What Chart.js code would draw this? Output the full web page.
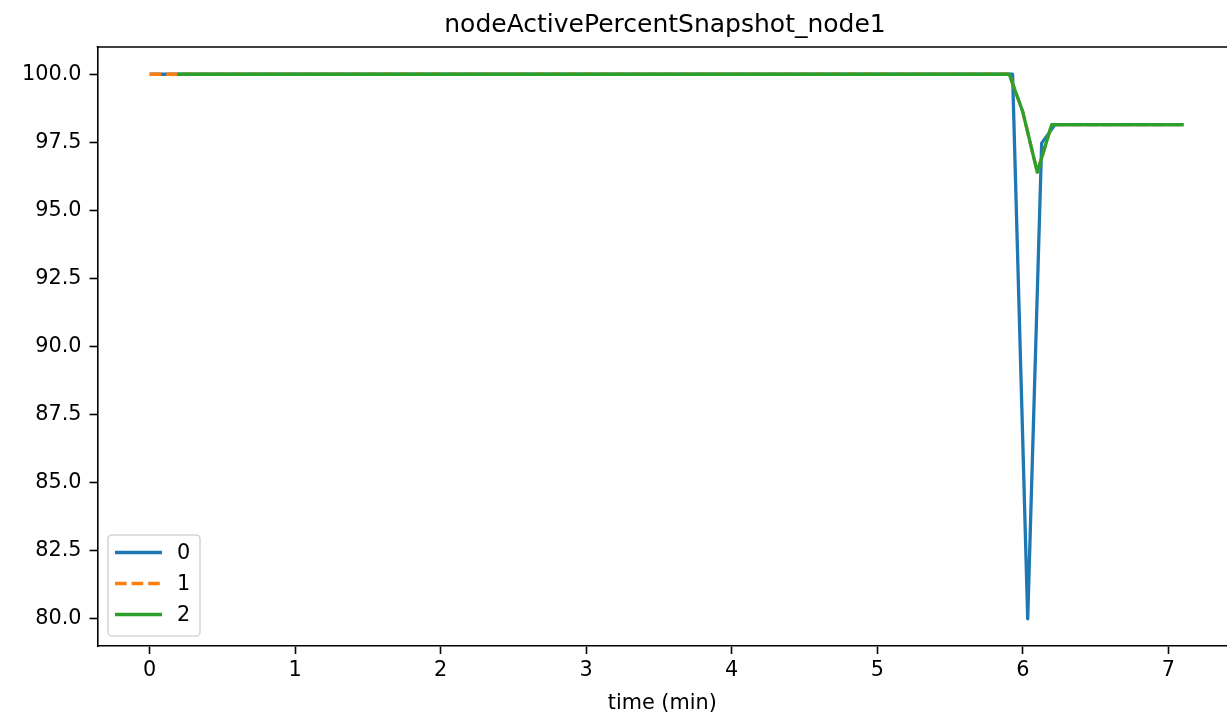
<!DOCTYPE html>
<html>
<head>
<meta charset="utf-8">
<script src="https://cdn.jsdelivr.net/npm/chart.js@4"></script>
<style>
  html, body { margin: 0; padding: 0; background: #fff; }
  #wrap { width: 1227px; height: 716px; }
</style>
</head>
<body>
<div id="wrap"><canvas id="myChart" width="1227" height="716"></canvas></div>
<script>
// chart texts
var chartTitle = 'nodeActivePercentSnapshot_node1';
var xLabel = 'time (min)';
var seriesNames = ['0', '1', '2'];
var seriesColors = ['#1f77b4', '#ff7f0e', '#2ca02c'];

// series 0 (blue)
var time0 = [0, 5.93, 6.034, 6.13, 6.222, 7.105];
var values0 = [100, 100, 80, 97.47, 98.15, 98.15];

// series 1 (orange, dashed) - mostly hidden under series 2
var time1 = [0, 5.907, 6.0, 6.1, 6.199, 7.105];
var values1 = [100, 100, 98.62, 96.4, 98.15, 98.15];

// series 2 (green)
var time2 = [0.19, 5.907, 6.0, 6.1, 6.199, 7.105];
var values2 = [100, 100, 98.62, 96.4, 98.15, 98.15];

// tick labels
var xTicks = [0, 1, 2, 3, 4, 5, 6, 7];
var yTicks = [80, 82.5, 85, 87.5, 90, 92.5, 95, 97.5, 100];

var FONT = 'DejaVu Sans';

function toPoints(xs, ys) {
    var pts = [];
    for (var i = 0; i < xs.length; i++) { pts.push({ x: xs[i], y: ys[i] }); }
    return pts;
}

// title, top spine and legend box drawn on the canvas
var extras = {
    id: 'extras',
    afterDraw: function (chart) {
        var c = chart.ctx;
        var a = chart.chartArea;
        c.save();
        // top spine
        c.strokeStyle = '#000';
        c.lineWidth = 1.6;
        c.beginPath();
        c.moveTo(a.left - 0.8, a.top);
        c.lineTo(a.right, a.top);
        c.stroke();

        // title
        c.fillStyle = '#000';
        c.font = '25px "' + FONT + '"';
        c.textAlign = 'center';
        c.textBaseline = 'alphabetic';
        c.fillText(chartTitle, 665, 32);

        // legend
        var lx = 108, ly = 535, lw = 92, lh = 101;
        c.beginPath();
        c.roundRect(lx, ly, lw, lh, 4);
        c.fillStyle = 'rgba(255,255,255,0.8)';
        c.fill();
        c.strokeStyle = '#d6d6d6';
        c.lineWidth = 1.6;
        c.stroke();

        var rows = [552.5, 583.5, 614.5];
        c.font = '20.8px "' + FONT + '"';
        c.textAlign = 'left';
        c.textBaseline = 'middle';
        for (var i = 0; i < seriesNames.length; i++) {
            c.strokeStyle = seriesColors[i];
            c.lineWidth = 3.3;
            c.setLineDash(i == 1 ? [11.6, 5] : []);
            c.beginPath();
            c.moveTo(115, rows[i]);
            c.lineTo(162, rows[i]);
            c.stroke();
            c.setLineDash([]);
            c.fillStyle = '#000';
            c.fillText(seriesNames[i], 177, rows[i] + 1);
        }
        c.restore();
    }
};

var ctx = document.getElementById('myChart');

// order: higher value is drawn first, so green (2) ends up on top
var config = {
    type: 'line',
    data: {
        datasets: [
            { label: seriesNames[0], data: toPoints(time0, values0), borderColor: seriesColors[0], borderWidth: 3.3, order: 3 },
            { label: seriesNames[1], data: toPoints(time1, values1), borderColor: seriesColors[1], borderWidth: 3.3, borderDash: [11.6, 5], order: 2 },
            { label: seriesNames[2], data: toPoints(time2, values2), borderColor: seriesColors[2], borderWidth: 3.3, order: 1 }
        ]
    },
    options: {
        responsive: false,
        animation: false,
        events: [],
        elements: {
            point: { radius: 0 },
            line: { tension: 0, fill: false, borderCapStyle: 'butt', borderJoinStyle: 'round' }
        },
        layout: { padding: { top: 47, right: 0, bottom: 0, left: 0 } },
        plugins: {
            legend: { display: false },
            title: { display: false },
            tooltip: { enabled: false }
        },
        scales: {
            x: {
                type: 'linear',
                min: -0.3587,
                max: 7.4036,
                afterFit: function (s) { s.height = 70; },
                afterBuildTicks: function (s) { s.ticks = xTicks.map(function (v) { return { value: v }; }); },
                grid: { drawOnChartArea: false, drawTicks: true, tickLength: 8, tickColor: '#000', tickWidth: 1.6 },
                border: { display: true, color: '#000', width: 1.6 },
                ticks: {
                    color: '#000', padding: 4, maxRotation: 0, autoSkip: false,
                    font: { family: FONT, size: 20.8 },
                    callback: function (v) { return String(v); }
                },
                title: {
                    display: true, text: xLabel, color: '#000',
                    font: { family: FONT, size: 20.8 },
                    padding: { top: 0, bottom: 0 }
                }
            },
            y: {
                type: 'linear',
                min: 79,
                max: 101,
                afterFit: function (s) { s.width = 97.5; },
                afterBuildTicks: function (s) { s.ticks = yTicks.map(function (v) { return { value: v }; }); },
                grid: { drawOnChartArea: false, drawTicks: true, tickLength: 8, tickColor: '#000', tickWidth: 1.6 },
                border: { display: true, color: '#000', width: 1.6 },
                ticks: {
                    color: '#000', padding: 8, autoSkip: false,
                    font: { family: FONT, size: 20.8 },
                    callback: function (v) { return v.toFixed(1); }
                }
            }
        }
    },
    plugins: [extras]
};

var chart = new Chart(ctx, config);
</script>
</body>
</html>
